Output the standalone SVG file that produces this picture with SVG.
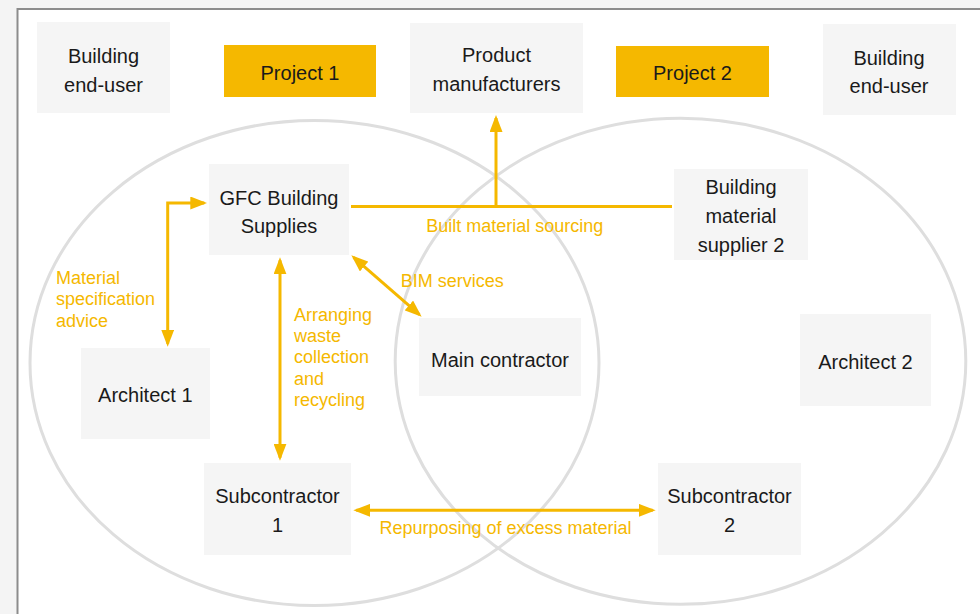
<svg xmlns="http://www.w3.org/2000/svg" width="980" height="614" viewBox="0 0 980 614">
<defs>
<style>
.node{fill:#f5f5f5}
.proj{fill:#f5b800}
.t{font-family:"Liberation Sans",Arial,sans-serif;font-size:20px;fill:#1a1a1a;text-anchor:middle}
.lbl{font-family:"Liberation Sans",Arial,sans-serif;font-size:18px;fill:#f5b800}
.ring{fill:none;stroke:#dedede;stroke-width:3}
.c{fill:none;stroke:#f5b800;stroke-width:3}
.a{marker-end:url(#ah)}
.b{marker-start:url(#ah);marker-end:url(#ah)}
</style>
<marker id="ah" markerUnits="userSpaceOnUse" markerWidth="17" markerHeight="13" viewBox="0 0 17 13" refX="14" refY="6.5" orient="auto-start-reverse">
<path d="M0,0 L17,6.5 L0,13 z" fill="#f5b800"/>
</marker>
</defs>
<rect x="0" y="0" width="980" height="614" fill="#f4f4f4"/>
<rect x="17.5" y="9" width="980" height="620" fill="#ffffff" stroke="#8c8c8c" stroke-width="2"/>
<g id="sets">
<ellipse class="ring" cx="314.5" cy="363" rx="284.5" ry="242.5"/>
<ellipse class="ring" cx="680.5" cy="361.3" rx="285.3" ry="243"/>
</g>
<g id="n-enduser1"><rect class="node" x="37" y="22" width="133" height="91"/><text class="t" x="103.5" y="63.3">Building</text><text class="t" x="103.5" y="91.5">end-user</text></g>
<g id="n-project1"><rect class="proj" x="224" y="45" width="152" height="52"/><text class="t" x="300" y="80">Project 1</text></g>
<g id="n-product"><rect class="node" x="410" y="23" width="173" height="90"/><text class="t" x="496.5" y="62.3">Product</text><text class="t" x="496.5" y="91">manufacturers</text></g>
<g id="n-project2"><rect class="proj" x="616" y="46" width="153" height="51"/><text class="t" x="692.5" y="80">Project 2</text></g>
<g id="n-enduser2"><rect class="node" x="823" y="24" width="133" height="91"/><text class="t" x="889" y="65">Building</text><text class="t" x="889" y="93.3">end-user</text></g>
<g id="n-gfc"><rect class="node" x="209" y="164" width="140" height="91"/><text class="t" x="279" y="205">GFC Building</text><text class="t" x="279" y="232.7">Supplies</text></g>
<g id="n-arch1"><rect class="node" x="81" y="348" width="129" height="91"/><text class="t" x="145.3" y="402.3">Architect 1</text></g>
<g id="n-main"><rect class="node" x="419" y="318" width="162" height="78"/><text class="t" x="500" y="366.7">Main contractor</text></g>
<g id="n-bms2"><rect class="node" x="674" y="169" width="134" height="91"/><text class="t" x="741" y="194.3">Building</text><text class="t" x="741" y="223.3">material</text><text class="t" x="741" y="251.7">supplier 2</text></g>
<g id="n-arch2"><rect class="node" x="800" y="314" width="131" height="92"/><text class="t" x="865.5" y="369">Architect 2</text></g>
<g id="n-sub1"><rect class="node" x="204" y="463" width="147" height="92"/><text class="t" x="277.5" y="503.3">Subcontractor</text><text class="t" x="277.5" y="532.3">1</text></g>
<g id="n-sub2"><rect class="node" x="658" y="463" width="143" height="92"/><text class="t" x="729.5" y="503.3">Subcontractor</text><text class="t" x="729.5" y="532.3">2</text></g>
<g id="connectors">
<path class="c b" d="M167.7,343.7 L167.7,203 L204.3,203"/>
<path class="c b" d="M280,260.3 L280,457.7"/>
<path class="c b" d="M353.6,257.3 L419.4,314.7"/>
<path class="c" d="M351,206.5 L672,206.5"/>
<path class="c a" d="M496,206.5 L496,118"/>
<path class="c b" d="M356.3,510.3 L652.7,510.3"/>
<text class="lbl" x="56" y="284">Material</text>
<text class="lbl" x="56" y="305.3">specification</text>
<text class="lbl" x="56" y="326.7">advice</text>
<text class="lbl" x="294" y="320.7">Arranging</text>
<text class="lbl" x="294" y="342">waste</text>
<text class="lbl" x="294" y="363.3">collection</text>
<text class="lbl" x="294" y="384.7">and</text>
<text class="lbl" x="294" y="406">recycling</text>
<text class="lbl" x="514.7" y="231.7" text-anchor="middle">Built material sourcing</text>
<text class="lbl" x="400.7" y="287">BIM services</text>
<text class="lbl" x="505.5" y="534.3" text-anchor="middle">Repurposing of excess material</text>
</g>
</svg>
